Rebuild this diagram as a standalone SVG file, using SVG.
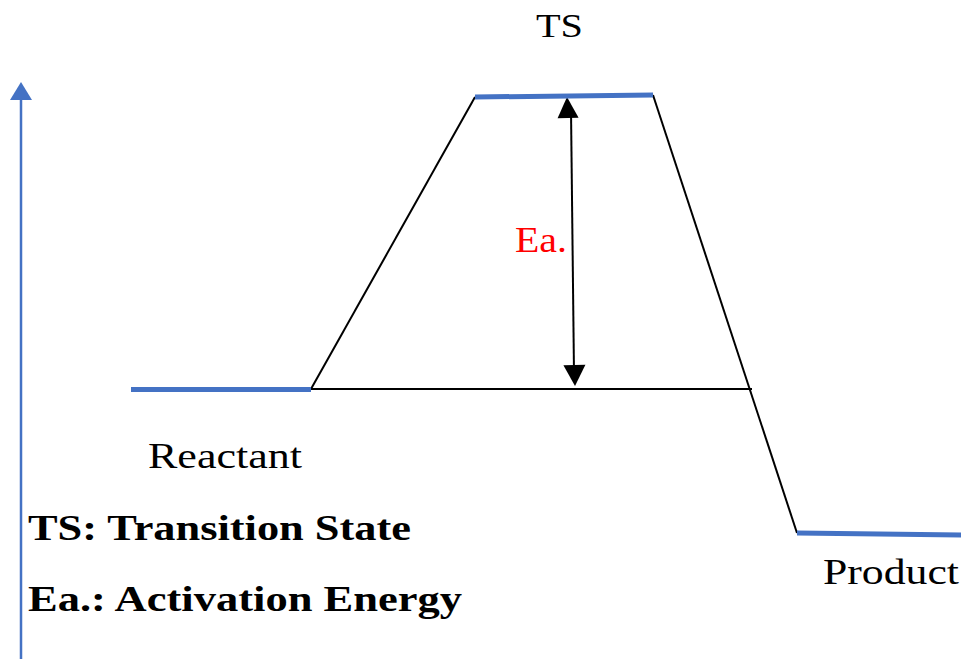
<svg xmlns="http://www.w3.org/2000/svg" width="961" height="659" viewBox="0 0 961 659">
<defs>
<style>
.lvl{stroke:#4472C4;stroke-width:5;fill:none;stroke-linecap:butt}
.blk{stroke:#000;stroke-width:2;fill:none}
.t{font-family:"Liberation Serif","Times New Roman",serif;fill:#000}
.b{font-weight:bold}
</style>
</defs>
<rect width="961" height="659" fill="#fff"/>
<g id="axis">
<line x1="21" y1="659" x2="21" y2="98" stroke="#4472C4" stroke-width="2.5"/>
<path d="M21,82 L32,100 L10,100 z" fill="#4472C4"/>
</g>
<g id="connectors">
<line class="blk" x1="311" y1="389" x2="475" y2="97"/>
<line class="blk" x1="653" y1="95" x2="797" y2="533"/>
<line class="blk" x1="311" y1="389" x2="752" y2="389"/>
<line x1="571" y1="110" x2="574" y2="373" stroke="#000" stroke-width="2"/>
<path d="M567,97 L578,118 L557,118 z" fill="#000" transform="rotate(-1.6 567 97)"/>
<path d="M575,386 L564,365 L586,365 z" fill="#000" transform="rotate(-1.6 575 386)"/>
</g>
<g id="reactant">
<line class="lvl" x1="131" y1="389.5" x2="311" y2="389.5"/>
<text class="t" x="148" y="468" font-size="35" textLength="154" lengthAdjust="spacingAndGlyphs">Reactant</text>
</g>
<g id="ts">
<line class="lvl" x1="475" y1="97" x2="653" y2="95"/>
<text class="t" x="536" y="37" font-size="34" textLength="47" lengthAdjust="spacingAndGlyphs">TS</text>
</g>
<g id="product">
<line class="lvl" x1="797" y1="533" x2="961" y2="535"/>
<text class="t" x="823" y="584" font-size="35" textLength="136" lengthAdjust="spacingAndGlyphs">Product</text>
</g>
<g id="ea">
<text class="t" x="515" y="252" font-size="36" style="fill:#ff0000" textLength="52" lengthAdjust="spacingAndGlyphs">Ea.</text>
</g>
<g id="legend">
<text class="t b" x="28" y="540" font-size="36" textLength="383" lengthAdjust="spacingAndGlyphs">TS: Transition State</text>
<text class="t b" x="28" y="611" font-size="36" textLength="434" lengthAdjust="spacingAndGlyphs">Ea.: Activation Energy</text>
</g>
</svg>
